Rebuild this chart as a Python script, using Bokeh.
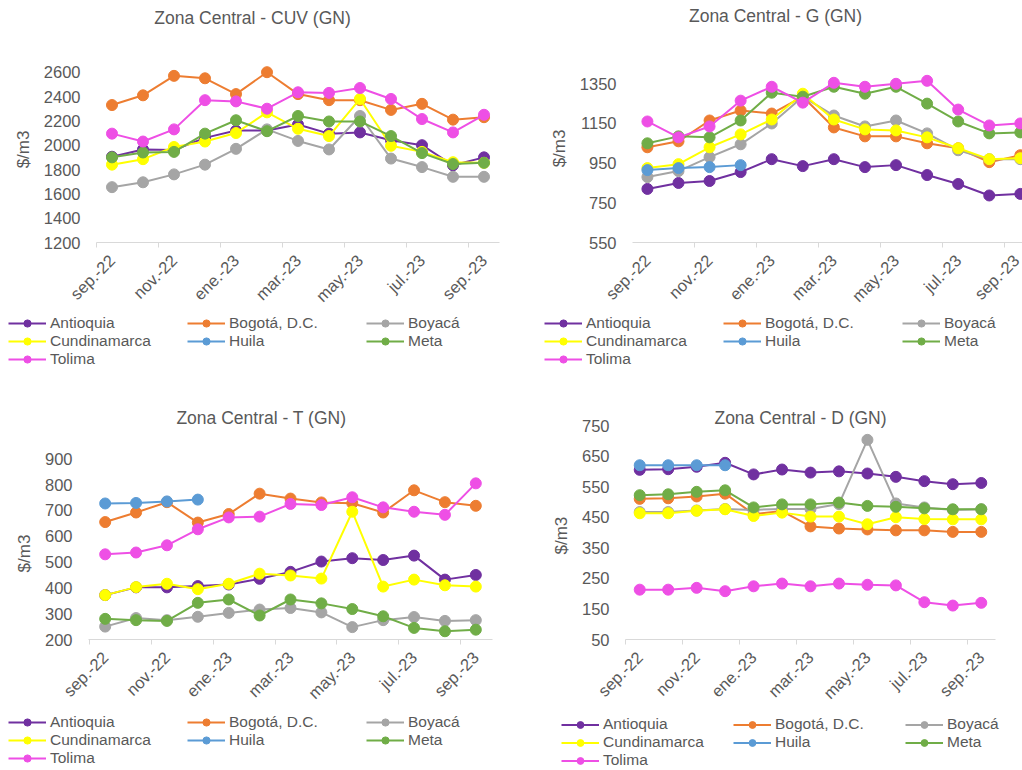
import math
import numpy as np
from bokeh.plotting import figure
from bokeh.models import (ColumnDataSource, FixedTicker, Range1d, Legend, LegendItem, Label,
                          LinearAxis)
from bokeh.layouts import column, row
from bokeh.embed import file_html
from bokeh.resources import INLINE

months = ["sep.-22", "oct.-22", "nov.-22", "dic.-22", "ene.-23", "feb.-23", "mar.-23",
          "abr.-23", "may.-23", "jun.-23", "jul.-23", "ago.-23", "sep.-23"]
departments = ["Antioquia", "Bogotá, D.C.", "Boyacá", "Cundinamarca", "Huila", "Meta", "Tolima"]
colors = ["#7030A0", "#ED7D31", "#A5A5A5", "#FFFF00", "#5B9BD5", "#70AD47", "#EE4FE5"]

# Zona Central - CUV (GN)
cuv_antioquia = [1905, 1965, 1960, 2060, 2120, 2120, 2170, 2095, 2105, 2040, 2000, 1835, 1900]
cuv_bogota = [2330, 2410, 2570, 2550, 2420, 2600, 2420, 2370, 2370, 2290, 2340, 2210, 2230]
cuv_boyaca = [1655, 1695, 1760, 1840, 1970, 2130, 2035, 1965, 2240, 1890, 1820, 1740, 1740]
cuv_cundinamarca = [1840, 1885, 1985, 2030, 2100, 2270, 2135, 2075, 2380, 1995, 1945, 1860, 1855]
cuv_huila = [None, None, None, None, None, None, None, None, None, None, None, None, None]
cuv_meta = [1900, 1940, 1945, 2095, 2205, 2115, 2240, 2195, 2195, 2075, 1935, 1845, 1855]
cuv_tolima = [2095, 2030, 2130, 2370, 2360, 2300, 2435, 2430, 2470, 2380, 2215, 2105, 2250]

# Zona Central - G (GN)
g_antioquia = [820, 850, 860, 905, 970, 935, 970, 930, 940, 890, 845, 787, 795]
g_bogota = [1030, 1060, 1165, 1215, 1200, 1285, 1130, 1085, 1085, 1050, 1025, 955, 990]
g_boyaca = [880, 910, 980, 1045, 1150, 1285, 1190, 1135, 1165, 1100, 1015, 970, 970]
g_cundinamarca = [925, 945, 1030, 1095, 1170, 1300, 1170, 1120, 1115, 1080, 1025, 970, 975]
g_huila = [915, 925, 930, 940, None, None, None, None, None, None, None, None, None]
g_meta = [1050, 1085, 1080, 1165, 1305, 1285, 1335, 1300, 1335, 1250, 1160, 1100, 1105]
g_tolima = [1160, 1080, 1135, 1265, 1335, 1255, 1355, 1335, 1350, 1365, 1220, 1140, 1150]

# Zona Central - T (GN)
t_antioquia = [372, 402, 402, 407, 413, 435, 462, 502, 515, 508, 525, 432, 450]
t_bogota = [655, 692, 732, 653, 686, 765, 746, 731, 728, 692, 778, 732, 718]
t_boyaca = [250, 283, 275, 288, 303, 316, 322, 305, 248, 275, 287, 272, 275]
t_cundinamarca = [372, 403, 416, 395, 416, 455, 448, 436, 695, 405, 432, 410, 405]
t_huila = [727, 729, 735, 742, None, None, None, None, None, None, None, None, None]
t_meta = [280, 275, 272, 342, 355, 293, 355, 340, 318, 290, 245, 232, 238]
t_tolima = [530, 537, 565, 627, 673, 676, 725, 721, 751, 712, 695, 683, 805]

# Zona Central - D (GN)
d_antioquia = [605, 607, 615, 628, 590, 606, 596, 600, 593, 582, 568, 558, 562]
d_bogota = [510, 512, 518, 527, 460, 470, 420, 413, 410, 407, 407, 402, 402]
d_boyaca = [467, 467, 472, 477, 474, 477, 477, 493, 703, 495, 482, 474, 476]
d_cundinamarca = [463, 463, 471, 476, 454, 465, 452, 452, 427, 450, 444, 443, 443]
d_huila = [620, 620, 620, 620, None, None, None, None, None, None, None, None, None]
d_meta = [522, 525, 533, 538, 482, 492, 492, 498, 487, 484, 479, 476, 476]
d_tolima = [213, 213, 219, 208, 224, 233, 224, 233, 229, 227, 172, 161, 170]

cuv_series = [cuv_antioquia, cuv_bogota, cuv_boyaca, cuv_cundinamarca, cuv_huila, cuv_meta, cuv_tolima]
g_series = [g_antioquia, g_bogota, g_boyaca, g_cundinamarca, g_huila, g_meta, g_tolima]
t_series = [t_antioquia, t_bogota, t_boyaca, t_cundinamarca, t_huila, t_meta, t_tolima]
d_series = [d_antioquia, d_bogota, d_boyaca, d_cundinamarca, d_huila, d_meta, d_tolima]

cuv_ticks = [1200, 1400, 1600, 1800, 2000, 2200, 2400, 2600]
g_ticks = [550, 750, 950, 1150, 1350]
t_ticks = [200, 300, 400, 500, 600, 700, 800, 900]
d_ticks = [50, 150, 250, 350, 450, 550, 650, 750]

FONT = "Liberation Sans"
TXT = "#595959"
AXIS = "#D9D9D9"
idx = list(range(len(months)))


def make_chart(title, series, origin, width, height, borders, xr, yr, yticks,
               title_pos, ylab_y, ylab_standoff):
    mbl, mbr, mbb = borders
    p = figure(width=width, height=height, x_range=Range1d(*xr), y_range=Range1d(*yr),
               output_backend="svg", toolbar_location=None,
               min_border_left=mbl, min_border_right=mbr,
               min_border_top=0, min_border_bottom=mbb,
               outline_line_color=None, background_fill_color="white",
               border_fill_color="white")
    p.grid.visible = False

    # page pixel -> data conversion for the title / axis-title placement
    fx0 = origin[0] + mbl
    fx1 = origin[0] + width - mbr
    fy0 = origin[1]
    fy1 = origin[1] + height - mbb

    def to_data(px, py):
        return (xr[0] + (px - fx0) / (fx1 - fx0) * (xr[1] - xr[0]),
                yr[0] + (fy1 - py) / (fy1 - fy0) * (yr[1] - yr[0]))

    for name, col, vals in zip(departments, colors, series):
        src = ColumnDataSource(dict(x=idx, y=np.array(vals, dtype=float)))
        p.line("x", "y", source=src, line_color=col, line_width=2)
        p.scatter("x", "y", source=src, size=11, fill_color=col, line_color=col)

    major = idx[::2]
    p.xaxis.ticker = FixedTicker(ticks=major, minor_ticks=[m - 0.5 for m in major])
    p.xaxis.major_label_overrides = {m: months[m] for m in major}
    p.xaxis.major_label_orientation = math.pi / 4
    p.xaxis.axis_line_color = AXIS
    p.xaxis.major_tick_line_color = None
    p.xaxis.major_tick_out = 0
    p.xaxis.major_tick_in = 0
    p.xaxis.minor_tick_line_color = AXIS
    p.xaxis.minor_tick_out = 5
    p.xaxis.minor_tick_in = 0
    p.xaxis.major_label_standoff = 10
    p.xaxis.major_label_text_font = FONT
    p.xaxis.major_label_text_font_size = "16.5px"
    p.xaxis.major_label_text_color = TXT

    yax = p.yaxis[0]
    yax.ticker = FixedTicker(ticks=yticks)
    yax.axis_line_color = None
    yax.major_tick_line_color = None
    yax.minor_tick_line_color = None
    yax.major_tick_out = 0
    yax.major_label_standoff = 16
    yax.major_label_text_font = FONT
    yax.major_label_text_font_size = "16.5px"
    yax.major_label_text_color = TXT

    # axis title "$/m3" as a second left axis, placed at its reference height
    v = int(round(to_data(0, ylab_y)[1]))
    ax2 = LinearAxis(ticker=FixedTicker(ticks=[v]), major_label_overrides={v: "$/m3"},
                     major_label_orientation="vertical", axis_line_color=None,
                     major_tick_line_color=None, minor_tick_line_color=None,
                     major_tick_out=0, major_tick_in=0, minor_tick_out=0,
                     major_label_standoff=ylab_standoff, major_label_text_font=FONT,
                     major_label_text_font_size="17px", major_label_text_color=TXT)
    p.add_layout(ax2, "left")

    tx, ty = to_data(*title_pos)
    p.add_layout(Label(x=tx, y=ty, text=title, text_align="center", text_baseline="middle",
                       text_font=FONT, text_font_size="17.5px", text_color=TXT))
    return p


def make_legend(series, width, height, loc, label_width, row_h):
    f = figure(width=width, height=height, x_range=Range1d(100, 101), y_range=Range1d(0, 1),
               output_backend="svg", toolbar_location=None, min_border=0,
               x_axis_location=None, y_axis_location=None, outline_line_color=None)
    f.grid.visible = False
    items = []
    for name, col, vals in zip(departments, colors, series):
        src = ColumnDataSource(dict(x=idx, y=np.array(vals, dtype=float)))
        r1 = f.line("x", "y", source=src, line_color=col, line_width=2)
        r2 = f.scatter("x", "y", source=src, size=8, fill_color=col, line_color=col)
        items.append(LegendItem(label=name, renderers=[r1, r2]))
    leg = Legend(items=items, location=loc, orientation="horizontal", ncols=3,
                 label_text_font=FONT, label_text_font_size="15.5px", label_text_color=TXT,
                 glyph_width=38, glyph_height=row_h, label_height=row_h,
                 label_width=label_width, label_standoff=4, spacing=0, padding=0, margin=0,
                 border_line_color=None, background_fill_alpha=0)
    f.add_layout(leg)
    return f


p_cuv = make_chart("Zona Central - CUV (GN)", cuv_series, (0, 0), 510, 314, (96, 11, 72),
                   (-0.5, 12.5), (1200, 3189.5), cuv_ticks, (252, 17.5), 149, 7)
p_g = make_chart("Zona Central - G (GN)", g_series, (510, 0), 512, 314, (122, 0, 72),
                 (-0.48, 12.07), (550, 1769.8), g_ticks, (775, 15), 148, 7)
p_t = make_chart("Zona Central - T (GN)", t_series, (0, 390), 510, 321, (88, 18, 72),
                 (-0.54, 12.54), (200, 1164.7), t_ticks, (261, 417), 553, 7)
p_d = make_chart("Zona Central - D (GN)", d_series, (510, 390), 512, 321, (115, 27, 72),
                 (-0.5, 12.5), (50, 864.5), d_ticks, (800, 417), 535, 7)

l_cuv = make_legend(cuv_series, 510, 76, (8, 22), 137, 18)
l_g = make_legend(g_series, 512, 76, (34, 22), 137, 18)
l_t = make_legend(t_series, 510, 59, (8, 3), 137, 18)
l_d = make_legend(d_series, 512, 59, (51, 1), 130, 17)

layout = column(row(p_cuv, p_g), row(l_cuv, l_g), row(p_t, p_d), row(l_t, l_d))

open("out.html", "w").write(file_html(layout, INLINE))
